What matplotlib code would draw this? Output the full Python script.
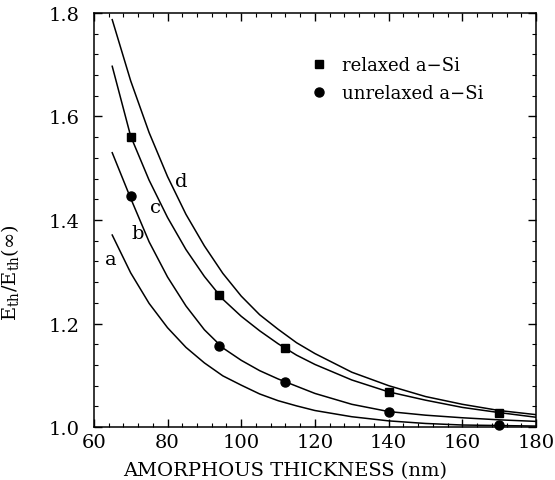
import matplotlib
matplotlib.use("Agg")
import matplotlib.pyplot as plt

thick = [65, 70, 75, 80, 85, 90, 95, 100, 105, 110, 115, 120, 130, 140, 150, 160, 170, 180]

# curves a-d, E_th / E_th(inf)
curve_a = [1.371, 1.298, 1.239, 1.192, 1.154, 1.124, 1.099, 1.081, 1.064, 1.051, 1.041, 1.032,
           1.020, 1.012, 1.007, 1.004, 1.003, 1.002]
curve_b = [1.530, 1.442, 1.358, 1.290, 1.234, 1.188, 1.153, 1.129, 1.109, 1.093, 1.079, 1.065,
           1.044, 1.030, 1.023, 1.018, 1.014, 1.011]
curve_c = [1.697, 1.562, 1.477, 1.405, 1.343, 1.291, 1.247, 1.214, 1.186, 1.161, 1.139, 1.121,
           1.091, 1.068, 1.052, 1.038, 1.028, 1.019]
curve_d = [1.787, 1.669, 1.569, 1.484, 1.411, 1.350, 1.297, 1.253, 1.217, 1.189, 1.163, 1.142,
           1.106, 1.080, 1.059, 1.044, 1.032, 1.024]

# measured points
relaxed_x = [70, 94, 112, 140, 170]
relaxed_y = [1.560, 1.255, 1.152, 1.068, 1.027]
unrelaxed_x = [70, 94, 112, 140, 170]
unrelaxed_y = [1.446, 1.157, 1.088, 1.030, 1.004]

curve_names = ["a", "b", "c", "d"]
label_x = [64.5, 71.8, 76.7, 83.8]
label_y = [1.325, 1.374, 1.425, 1.476]

plt.rcParams['font.family'] = ['DejaVu Serif']
plt.rcParams['mathtext.fontset'] = 'dejavuserif'

fig = plt.figure(figsize=(5.55, 4.81), dpi=100)
ax = fig.add_axes([0.169, 0.110, 0.797, 0.861])

for ys in (curve_a, curve_b, curve_c, curve_d):
    ax.plot(thick, ys, color='black', lw=1.1)

ax.plot(relaxed_x, relaxed_y, 's', color='black', ms=6.3, label='relaxed a\u2212Si',
        clip_on=False)
ax.plot(unrelaxed_x, unrelaxed_y, 'o', color='black', ms=6.5, label='unrelaxed a\u2212Si',
        clip_on=False)

for name, lx, ly in zip(curve_names, label_x, label_y):
    ax.text(lx, ly, name, fontsize=14, ha='center', va='center')

ax.set_xlim(60, 180)
ax.set_ylim(1.0, 1.8)
ax.set_xticks([60, 80, 100, 120, 140, 160, 180])
ax.set_yticks([1.0, 1.2, 1.4, 1.6, 1.8])
ax.set_xticks(range(60, 181, 4), minor=True)
ax.set_yticks([1.0 + 0.04 * i for i in range(21)], minor=True)
ax.tick_params(which='both', direction='in', top=True, right=True, labelsize=14)
ax.tick_params(which='major', length=6, width=1)
ax.tick_params(which='minor', length=3, width=0.8)
ax.tick_params(axis='y', pad=10)
ax.tick_params(axis='x', pad=4)
for s in ax.spines.values():
    s.set_linewidth(1.1)

ax.set_xlabel('AMORPHOUS THICKNESS (nm)', fontsize=14)
ax.xaxis.set_label_coords(0.432, -0.083)
ax.set_ylabel(r'E$_{\rm th}$/E$_{\rm th}$($\infty$)', fontsize=14)
ax.yaxis.set_label_coords(-0.165, 0.375)

ax.legend(loc='upper left', bbox_to_anchor=(0.455, 0.935), frameon=False, fontsize=13,
          handlelength=0.8, handletextpad=0.9, labelspacing=0.55, numpoints=1)

fig.savefig('out.png', dpi=100)
